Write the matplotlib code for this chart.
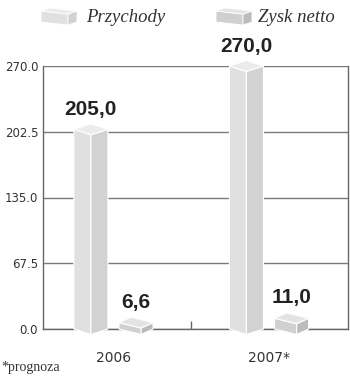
import matplotlib
matplotlib.use('Agg')
import matplotlib.pyplot as plt
from matplotlib.patches import Polygon

categories = ['2006', '2007*']
series_names = ['Przychody', 'Zysk netto']
przychody = [205.0, 270.0]
zysk = [6.6, 11.0]
labels_p = ['205,0', '270,0']
labels_z = ['6,6', '11,0']
yticks = [0.0, 67.5, 135.0, 202.5, 270.0]
footnote = '*prognoza'

W, H = 350, 379
fig = plt.figure(figsize=(W / 100, H / 100), dpi=100)
ax = fig.add_axes([43 / W, 1 - 329 / H, 305 / W, 263 / H])
ax.set_xlim(-0.453, 1.508)
ax.set_ylim(0, 270)

# (left/front face, right face, top face)
cols_p = ('#e0e0e0', '#d2d2d2', '#ebebeb')
cols_z = ('#d0d0d0', '#bcbcbc', '#e3e3e3')
offset = 0.145
width = 0.219
depth = 5.6


def prism(c, v, cols, f):
    l, r = c - width / 2, c + width / 2
    m = l + f * width          # front corner
    b = l + (1 - f) * width    # back corner
    faces = [
        ([l, l, m, m], [0, v, v - depth, -depth], cols[0]),
        ([m, m, r, r], [-depth, v - depth, v, 0], cols[1]),
        ([l, b, r, m], [v, v + depth, v, v - depth], cols[2]),
    ]
    for xs, ys, fc in faces:
        for p in ax.fill(xs, ys, fc=fc, ec='white', lw=0.8, zorder=3):
            p.set_clip_on(False)


lab_kw = dict(textcoords='offset points', ha='center', va='bottom',
              family='Liberation Sans', weight='bold', fontsize=15,
              color='#222222', annotation_clip=False)

for i, cat in enumerate(categories):
    cp = i - offset
    cz = i + offset
    prism(cp, przychody[i], cols_p, 0.5)
    prism(cz, zysk[i], cols_z, 0.65)
    ax.annotate(labels_p[i], (cp, przychody[i] + depth), xytext=(0, 3.5), **lab_kw)
    ax.annotate(labels_z[i], (cz, zysk[i] + depth), xytext=(0, 4.0), **lab_kw)

ax.set_yticks(yticks)
ax.set_yticklabels([f'{t:.1f}' for t in yticks])
ax.yaxis.grid(True, color='#7a7a7a', lw=1)
ax.set_axisbelow(True)
ax.tick_params(axis='y', length=0, labelsize=8.5, pad=3.5, labelcolor='#333333')

ax.set_xticks([0, 1])
ax.set_xticklabels(categories)
ax.tick_params(axis='x', which='major', length=0, labelsize=10, pad=16, labelcolor='#333333')
ax.set_xticks([0.5], minor=True)
ax.tick_params(axis='x', which='minor', direction='in', length=6, color='#666666', width=1)

for s in ['left', 'right', 'bottom']:
    ax.spines[s].set_color('#666666')
    ax.spines[s].set_linewidth(1)
ax.spines['top'].set_visible(False)


def icon(x0, x1, ytop, cols, f=0.75):
    xm = x0 + f * (x1 - x0)
    xb = x0 + (1 - f) * (x1 - x0)
    pts = lambda P: [(x / W, 1 - y / H) for x, y in P]
    shapes = [
        ([(x0, ytop + 3), (xm, ytop + 6), (xm, ytop + 17), (x0, ytop + 14)], cols[0]),
        ([(xm, ytop + 6), (x1, ytop + 3), (x1, ytop + 14), (xm, ytop + 17)], cols[1]),
        ([(x0, ytop + 3), (xb, ytop), (x1, ytop + 3), (xm, ytop + 6)], cols[2]),
    ]
    for P, fc in shapes:
        fig.patches.append(Polygon(pts(P), closed=True, fc=fc, ec='white', lw=0.6,
                                   transform=fig.transFigure))


icon(41, 77, 8, cols_p)
icon(216, 252, 8, cols_z)
fig.text(86 / W, 1 - 17 / H, series_names[0], family='Liberation Serif', style='italic',
         fontsize=13.5, va='center', ha='left', color='#333333')
fig.text(258 / W, 1 - 17 / H, series_names[1], family='Liberation Serif', style='italic',
         fontsize=13.5, va='center', ha='left', color='#333333')
fig.text(1 / W, 1 - 368 / H, footnote, family='Liberation Serif', fontsize=10,
         va='center', ha='left', color='#333333')

fig.savefig('out.png', dpi=100)
